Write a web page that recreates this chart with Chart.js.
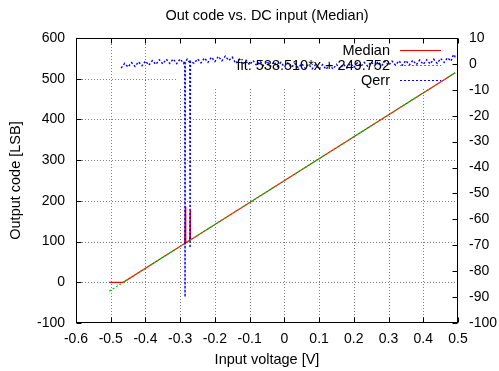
<!DOCTYPE html>
<html>
<head>
<meta charset="utf-8">
<script src="https://cdn.jsdelivr.net/npm/chart.js@4"></script>
<style>
  html, body { margin: 0; padding: 0; background: #fff; }
</style>
</head>
<body>
<canvas id="adc-chart" width="499" height="371"></canvas>
<script>
const xTickValues = [-0.6, -0.5, -0.4, -0.3, -0.2, -0.1, 0, 0.1, 0.2, 0.3, 0.4, 0.5];
const yTickValues = [-100, 0, 100, 200, 300, 400, 500, 600];
const y2TickValues = [10, 0, -10, -20, -30, -40, -50, -60, -70, -80, -90, -100];

const seriesNames = ["Median", "fit: 538.510*x + 249.752", "Qerr"];

const medianX = [-0.504, -0.464, -0.287, -0.285, -0.284, -0.2725, -0.2715, -0.2705, 0.492];
const medianY = [0, 0, 95.2, 186, 96.8, 103.0, 176, 104.1, 514.7];

const fitX = [-0.504, 0.492];
const fitY = [-21.7, 514.7];

const qerrX = [
  -0.47, -0.46, -0.45, -0.44, -0.43, -0.42, -0.41, -0.40, -0.39, -0.38,
  -0.37, -0.36, -0.35, -0.34, -0.33, -0.32, -0.31, -0.30, -0.29, -0.287,
  -0.286, -0.285, -0.28, -0.2725, -0.2715, -0.2705, -0.26, -0.25, -0.24, -0.23,
  -0.22, -0.21, -0.20, -0.19, -0.18, -0.17, -0.16, -0.15, -0.14, -0.13,
  -0.12, -0.11, -0.10, -0.09, -0.08, -0.07, -0.06, -0.05, -0.04, -0.03,
  -0.02, -0.01, 0.00, 0.01, 0.02, 0.03, 0.04, 0.05, 0.06, 0.07,
  0.08, 0.09, 0.10, 0.11, 0.12, 0.13, 0.14, 0.15, 0.16, 0.17,
  0.18, 0.19, 0.20, 0.21, 0.22, 0.23, 0.24, 0.25, 0.26, 0.27,
  0.28, 0.29, 0.30, 0.31, 0.32, 0.33, 0.34, 0.35, 0.36, 0.37,
  0.38, 0.39, 0.40, 0.41, 0.42, 0.43, 0.44, 0.45, 0.46, 0.47,
  0.48, 0.485, 0.49, 0.492
];
const qerrY = [
  -1.6, 0.2, -1.2, 0.5, -1.0, 0.8, -0.7, 1.1, -0.5, 1.3,
  -0.2, 1.6, 0.0, 1.8, 0.2, 1.9, 0.1, 1.9, 0.2, 1.2,
  -90, 0.9, 1.8, 0.5, -71, 1.0, 0.2, 1.9, 0.4, 2.3,
  0.6, 2.6, 0.9, 2.9, 1.2, 3.0, 1.3, 2.6, 0.2, 1.8,
  -0.2, 1.4, -0.4, 1.3, -0.6, 1.1, -0.7, 1.0, -0.9, 0.8,
  -1.0, 0.6, -1.2, 0.4, -1.4, 0.2, -1.5, 0.1, -1.7, -0.1,
  -1.9, -0.2, -2.0, -0.3, -2.1, -0.4, -2.0, -0.2, -1.9, -0.1,
  -1.6, 0.2, -1.4, 0.4, -1.1, 0.6, -0.9, 0.8, -0.8, 0.9,
  -0.7, 1.0, -0.6, 1.1, -0.5, 1.2, -0.5, 1.3, -0.4, 1.4,
  -0.3, 1.5, -0.2, 1.6, 0.0, 1.8, 0.2, 2.1, 0.6, 2.4,
  1.1, 3.0, 3.6, 2.0
];

const colors = ["#ff0000", "#00d000", "#0000ff"];
const dashes = [[], [2, 2], [2, 2]];
const tickFont = { family: "'Liberation Sans', Arial, sans-serif", size: 14 };
const textFont = "14.5px 'Liberation Sans', Arial, sans-serif";

function zip(xs, ys) {
  return xs.map((x, i) => ({ x: x, y: ys[i] }));
}

function setTicks(values) {
  return scale => { scale.ticks = values.map(v => ({ value: v })); };
}

function hline(ctx, x1, x2, y) {
  ctx.beginPath(); ctx.moveTo(x1, y); ctx.lineTo(x2, y); ctx.stroke();
}
function vline(ctx, x, y1, y2) {
  ctx.beginPath(); ctx.moveTo(x, y1); ctx.lineTo(x, y2); ctx.stroke();
}

// gnuplot look: dotted grid, opaque key, inward tics, framed border
const gnuplotFrame = {
  id: 'gnuplotFrame',
  beforeDatasetsDraw(chart) {
    const { ctx, chartArea: a, scales } = chart;
    ctx.save();
    ctx.strokeStyle = '#808080';
    ctx.lineWidth = 1;
    ctx.setLineDash([1, 2]);
    xTickValues.slice(1, -1).forEach(v => {
      const px = Math.round(scales.x.getPixelForValue(v)) + 0.5;
      vline(ctx, px, a.top, a.bottom);
    });
    yTickValues.slice(1, -1).forEach(v => {
      const py = Math.round(scales.y.getPixelForValue(v)) + 0.5;
      hline(ctx, a.left, a.right, py);
    });
    ctx.setLineDash([]);
    ctx.fillStyle = '#fff';
    ctx.fillRect(177, a.top + 1, a.right - 178, 50);
    ctx.restore();
  },
  afterDatasetsDraw(chart) {
    const { ctx, chartArea: a, scales } = chart;
    const L = Math.round(a.left) + 0.5, R = Math.round(a.right) - 0.5;
    const T = Math.round(a.top) + 0.5, B = Math.round(a.bottom) - 0.5;
    ctx.save();
    ctx.strokeStyle = '#000';
    ctx.lineWidth = 1;
    ctx.strokeRect(L, T, R - L, B - T);
    const tic = 5;
    xTickValues.forEach(v => {
      const px = Math.round(scales.x.getPixelForValue(v)) + 0.5;
      vline(ctx, px, B, B - tic);
      vline(ctx, px, T, T + tic);
    });
    yTickValues.forEach(v => {
      const py = Math.round(scales.y.getPixelForValue(v)) + 0.5;
      hline(ctx, L, L + tic, py);
    });
    y2TickValues.forEach(v => {
      const py = Math.round(scales.y2.getPixelForValue(v)) + 0.5;
      hline(ctx, R - tic, R, py);
    });

    // key
    ctx.font = textFont;
    ctx.textAlign = 'right';
    ctx.textBaseline = 'middle';
    chart.data.datasets.forEach((ds, i) => {
      const y = a.top + 12.5 + i * 15;
      ctx.fillStyle = '#000';
      ctx.fillText(ds.label, a.right - 68, y);
      ctx.strokeStyle = ds.borderColor;
      ctx.setLineDash(ds.borderDash || []);
      hline(ctx, a.right - 58, a.right - 17, y);
    });
    ctx.restore();
  },
  afterDraw(chart) {
    const { ctx, chartArea: a } = chart;
    const cx = (a.left + a.right) / 2;
    ctx.save();
    ctx.font = textFont;
    ctx.fillStyle = '#000';
    ctx.textAlign = 'center';
    ctx.textBaseline = 'middle';
    ctx.fillText('Out code vs. DC input (Median)', cx, 16);
    ctx.fillText('Input voltage [V]', cx, 360);
    ctx.translate(16, (a.top + a.bottom) / 2);
    ctx.rotate(-Math.PI / 2);
    ctx.fillText('Output code [LSB]', 0, 0);
    ctx.restore();
  }
};

document.addEventListener("DOMContentLoaded", e => {
  const data = {
    datasets: [
      {
        label: seriesNames[0],
        data: zip(medianX, medianY),
        yAxisID: 'y',
        borderColor: colors[0],
        borderWidth: 1.2,
        borderDash: dashes[0],
        order: 3
      },
      {
        label: seriesNames[1],
        data: zip(fitX, fitY),
        yAxisID: 'y',
        borderColor: colors[1],
        borderWidth: 1.2,
        borderDash: dashes[1],
        order: 2
      },
      {
        label: seriesNames[2],
        data: zip(qerrX, qerrY),
        yAxisID: 'y2',
        borderColor: colors[2],
        borderWidth: 1.4,
        borderDash: dashes[2],
        order: 1
      }
    ]
  };

  const config = {
    type: 'line',
    data: data,
    options: {
      responsive: false,
      animation: false,
      parsing: false,
      elements: { point: { radius: 0 }, line: { tension: 0 } },
      layout: { padding: { top: 38, left: 0, right: 0, bottom: 0 } },
      plugins: {
        legend: { display: false },
        tooltip: { enabled: false },
        title: { display: false }
      },
      scales: {
        x: {
          type: 'linear',
          min: -0.6,
          max: 0.5,
          afterBuildTicks: setTicks(xTickValues),
          afterFit: s => { s.height = 48; },
          grid: { display: false, drawTicks: false },
          border: { display: false },
          ticks: {
            autoSkip: false,
            maxRotation: 0,
            padding: 8,
            color: '#000',
            font: tickFont,
            callback: v => String(Math.round(v * 10) / 10)
          }
        },
        y: {
          position: 'left',
          min: -100,
          max: 600,
          afterBuildTicks: setTicks(yTickValues),
          afterFit: s => { s.width = 76; },
          grid: { display: false, drawTicks: false },
          border: { display: false },
          ticks: { autoSkip: false, padding: 11, color: '#000', font: tickFont }
        },
        y2: {
          position: 'right',
          min: -100,
          max: 10,
          afterBuildTicks: setTicks(y2TickValues),
          afterFit: s => { s.width = 41; },
          grid: { display: false, drawTicks: false },
          border: { display: false },
          ticks: { autoSkip: false, padding: 11, color: '#000', font: tickFont }
        }
      }
    },
    plugins: [gnuplotFrame]
  };

  const adcChart = new Chart(document.getElementById('adc-chart'), config);
});
</script>
</body>
</html>
